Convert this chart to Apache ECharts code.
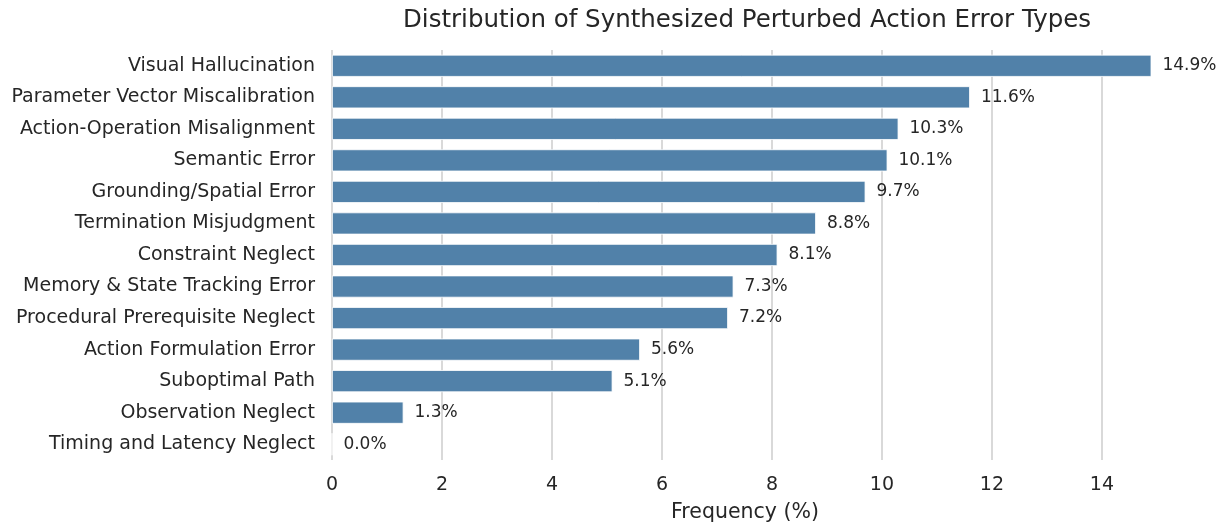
<!DOCTYPE html>
<html>
<head>
<meta charset="utf-8">
<script src="https://cdn.jsdelivr.net/npm/echarts@6/dist/echarts.min.js"></script>
<style>
  html, body { margin: 0; padding: 0; background: #fff; }
  #chart { width: 1230px; height: 524px; }
</style>
</head>
<body>
<div id="chart"></div>
<script>
// 错误类型（自上而下）
const categories = [
  'Visual Hallucination',
  'Parameter Vector Miscalibration',
  'Action-Operation Misalignment',
  'Semantic Error',
  'Grounding/Spatial Error',
  'Termination Misjudgment',
  'Constraint Neglect',
  'Memory & State Tracking Error',
  'Procedural Prerequisite Neglect',
  'Action Formulation Error',
  'Suboptimal Path',
  'Observation Neglect',
  'Timing and Latency Neglect'
]

// 频率 (%)
const frequencies = [14.9, 11.6, 10.3, 10.1, 9.7, 8.8, 8.1, 7.3, 7.2, 5.6, 5.1, 1.3, 0.0]

const xTicks = [0, 2, 4, 6, 8, 10, 12, 14]

const chart = echarts.init(document.getElementById('chart'))
const textColor = '#262626'
const font = 'DejaVu Sans'

const option = {
  animation: false,
  title: {
    text: 'Distribution of Synthesized Perturbed Action Error Types',
    left: 742,
    top: 3,
    textAlign: 'center',
    textStyle: { fontFamily: font, fontSize: 24.5, fontWeight: 'normal', color: textColor }
  },
  grid: {
    left: 332,
    top: 50,
    width: 826,
    height: 410,
    outerBoundsMode: 'none'
  },
  xAxis: {
    type: 'value',
    min: 0,
    max: 15.02,
    interval: 2,
    name: 'Frequency (%)',
    nameLocation: 'middle',
    nameGap: 42,
    nameTextStyle: { fontFamily: font, fontSize: 20.5, color: textColor },
    axisLine: { show: false },
    axisTick: { show: false },
    axisLabel: {
      fontFamily: font,
      fontSize: 19,
      color: textColor,
      margin: 16,
      showMaxLabel: false,
      formatter: v => (xTicks.includes(v) ? String(v) : '')
    },
    splitLine: {
      show: true,
      showMaxLine: false,
      lineStyle: { color: '#cccccc', width: 1.5 }
    }
  },
  yAxis: {
    type: 'category',
    inverse: true,
    data: categories,
    axisLine: { show: false },
    axisTick: { show: false },
    axisLabel: {
      fontFamily: font,
      fontSize: 19,
      color: textColor,
      margin: 17
    }
  },
  series: [
    {
      type: 'bar',
      data: frequencies,
      barCategoryGap: '30%',
      itemStyle: {
        color: '#5181a9',
        borderColor: '#ffffff',
        borderWidth: 0.8
      },
      label: {
        show: true,
        position: 'right',
        distance: 11,
        fontFamily: font,
        fontSize: 17,
        color: textColor,
        formatter: p => p.value.toFixed(1) + '%'
      }
    }
  ]
}

chart.setOption(option)
window.addEventListener('resize', () => {
  chart.resize()
})
</script>
</body>
</html>
